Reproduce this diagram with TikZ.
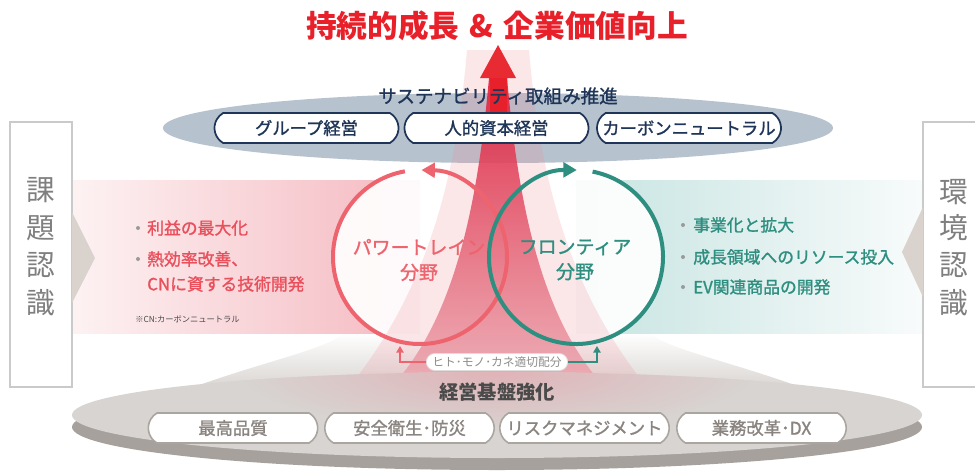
\documentclass[tikz,border=0pt]{standalone}
\usepackage{fontspec}
\setmainfont{Noto Sans CJK JP}
\newfontfamily\jpmed{Noto Sans CJK JP}[FakeBold=1.3]
\usetikzlibrary{arrows.meta,shapes.misc}
\definecolor{titlered}{HTML}{E8202A}
\definecolor{navyc}{HTML}{1F3557}
\definecolor{ellblue}{HTML}{B7C2CF}
\definecolor{coralc}{HTML}{EE646E}
\definecolor{coraltxt}{HTML}{E9505C}
\definecolor{tealc}{HTML}{2E8E80}
\definecolor{boxgrey}{HTML}{CACACA}
\definecolor{boxtxt}{HTML}{7F7F7F}
\definecolor{chev}{HTML}{D9D2CD}
\definecolor{discface}{HTML}{D7D4D1}
\definecolor{discside}{HTML}{A6A19C}
\definecolor{discpink}{HTML}{E0B3B8}
\definecolor{pillgrey}{HTML}{ABA5A0}
\definecolor{pilltxt}{HTML}{8A8480}
\definecolor{basetxt}{HTML}{4A4A4A}
\definecolor{bandpinkL}{HTML}{FDF2F3}
\definecolor{bandpinkR}{HTML}{F4B9C0}
\definecolor{bandtealL}{HTML}{C6E4E1}
\definecolor{bandtealR}{HTML}{F8FBFB}
\definecolor{beamred}{HTML}{DE1A38}
\definecolor{beammid}{HTML}{E65A6C}
\definecolor{beamlow}{HTML}{ECB0B8}
\definecolor{beamlight}{HTML}{F08E9A}
\definecolor{glowgrey}{HTML}{D6D2CE}
\definecolor{dotgrey}{HTML}{9A9A9A}
\definecolor{alloctxt}{HTML}{8C8C8C}
\definecolor{allocedge}{HTML}{E2DDDD}

\tikzset{
  toppill/.style={draw=navyc, line width=1.3pt, fill=white, rounded rectangle, rounded rectangle arc length=120, minimum width=138pt, minimum height=22.5pt, inner sep=0pt, text=navyc, font=\jpmed\fontsize{13}{13}\selectfont},
  botpill/.style={draw=pillgrey, line width=1.2pt, fill=white, rounded rectangle, rounded rectangle arc length=120, minimum width=127pt, minimum height=22.5pt, inner sep=0pt, text=pilltxt, font=\jpmed\fontsize{13}{13}\selectfont},
  vchar/.style={text=boxtxt, inner sep=0pt, font=\fontsize{21.5}{21.5}\selectfont},
  lbul/.style={anchor=west, inner sep=0pt, text=coraltxt, font=\jpmed\fontsize{12.6}{12.6}\selectfont},
  rbul/.style={anchor=west, inner sep=0pt, text=tealc, font=\jpmed\fontsize{12.6}{12.6}\selectfont},
  fieldtxt/.style={align=center, inner sep=0pt, font=\jpmed\fontsize{14.2}{18.8}\selectfont},
  ring/.style={line width=3pt, -{Triangle[length=10pt,width=11pt]}},
  feed/.style={line width=1.5pt, -{Triangle[length=5pt,width=5.5pt]}},
}

\begin{document}
\begin{tikzpicture}[x=0.75pt,y=-0.75pt]
\useasboundingbox (0,0) rectangle (975,472);
\clip (0,0) rectangle (975,472);
\fill[white] (0,0) rectangle (975,472);

% glow cone above the base disc
\shade[top color=white, bottom color=glowgrey] (180,392) .. controls (260,362) and (325,350) .. (345,333) -- (649,333) .. controls (669,350) and (734,362) .. (814,392) -- cycle;

% side bands
\shade[left color=bandpinkL, right color=bandpinkR] (72,180) rectangle (420,333);
\shade[left color=bandtealL, right color=bandtealR] (576,180) rectangle (923,333);

% side boxes and chevrons
\draw[boxgrey, line width=1.1pt, fill=white] (10,122) rectangle (72,387);
\draw[boxgrey, line width=1.1pt, fill=white] (923,122) rectangle (990,387);
\fill[chev] (72,212) -- (95,258) -- (72,303) -- cycle;
\fill[chev] (923,207) -- (902,252) -- (923,297) -- cycle;

% top ellipse
\fill[ellblue] (498,128) ellipse[x radius=335, y radius=35];

% circle interiors
\fill[white, opacity=0.92] (420,257) circle[radius=87];
\fill[white, opacity=0.92] (576,257) circle[radius=87];

% beams
\fill[beamlight, opacity=0.22] (467,50) .. controls (457,170) and (430,290) .. (345,392) -- (651,392) .. controls (566,290) and (539,170) .. (529,50) -- cycle;
\shade[top color=beamred, middle color=beammid, bottom color=beamlow, opacity=0.88] (489,78) .. controls (478,200) and (455,330) .. (380,398) -- (616,398) .. controls (541,330) and (518,200) .. (507,78) -- cycle;

% base disc
\fill[discside] (497,427) ellipse[x radius=425, y radius=43];
\fill[discface] (497,415) ellipse[x radius=425, y radius=43];
\begin{scope}
  \clip (497,415) ellipse[x radius=425, y radius=43];
  \shade[inner color=discpink, outer color=discface] (497,372) ellipse[x radius=260, y radius=60];
\end{scope}

% main arrow
\fill[titlered, opacity=0.95] (498,45) -- (516,78) -- (507,78) -- (507,140) -- (490,140) -- (490,78) -- (480,78) -- cycle;

% circle strokes with arrows
\draw[ring, coralc] (420,257) ++(-100:87) arc[start angle=-100, end angle=-449, radius=87];
\draw[ring, tealc] (576,257) ++(-79:87) arc[start angle=-79, end angle=270.5, radius=87];

% title and subtitle
\node[font=\bfseries\fontsize{23}{23}\selectfont, text=titlered, inner sep=0pt] (title) at (497,26) {持続的成長\,\,\&\,\,企業価値向上};
\node[font=\jpmed\fontsize{13.9}{13.9}\selectfont, text=navyc, inner sep=0pt] (sub) at (498,96) {サステナビリティ取組み推進};

% top pills
\node[toppill] (p1) at (306.5,128) {グループ経営};
\node[toppill] (p2) at (496.5,128) {人的資本経営};
\node[toppill] (p3) at (689,128) {カーボンニュートラル};

% side box texts
\node[vchar] (k1) at (41,190) {課};
\node[vchar] (k2) at (41,228) {題};
\node[vchar] (k3) at (41,265) {認};
\node[vchar] (k4) at (41,303) {識};
\node[vchar] (e1) at (954,192) {環};
\node[vchar] (e2) at (954,228) {境};
\node[vchar] (e3) at (954,265) {認};
\node[vchar] (e4) at (954,303) {識};

% left bullets
\fill[dotgrey] (138,228) circle[radius=2];
\fill[dotgrey] (138,259) circle[radius=2];
\node[lbul] (l1) at (147,228) {利益の最大化};
\node[lbul] (l2) at (147,259) {熱効率改善、};
\node[lbul] (l3) at (147,284) {CNに資する技術開発};
\node[anchor=west, inner sep=0pt, text=basetxt, font=\fontsize{6.2}{6.2}\selectfont] (note) at (135,319) {※CN:カーボンニュートラル};

% right bullets
\fill[dotgrey] (683,225) circle[radius=2];
\fill[dotgrey] (683,257) circle[radius=2];
\fill[dotgrey] (683,287) circle[radius=2];
\node[rbul] (r1) at (693,225) {事業化と拡大};
\node[rbul] (r2) at (693,257) {成長領域へのリソース投入};
\node[rbul] (r3) at (693,287) {EV関連商品の開発};

% circle texts
\node[fieldtxt, text=coralc] (pt) at (419,260) {パワートレイン\\分野};
\node[fieldtxt, text=tealc] (ft) at (575,260) {フロンティア\\分野};

% allocation label and feedback arrows
\node[draw=allocedge, line width=0.6pt, fill=white, rounded rectangle, minimum width=106pt, minimum height=12.75pt, inner sep=0pt, text=alloctxt, font=\fontsize{8.8}{8.8}\selectfont] (alloc) at (497,362) {ヒト･モノ･カネ適切配分};
\coordinate (lfoot) at (400,346);
\coordinate (rfoot) at (597,346);
\draw[feed, coralc] (alloc.west) -| (lfoot);
\draw[feed, tealc] (alloc.east) -| (rfoot);

% base title and pills
\node[font=\bfseries\fontsize{14.5}{14.5}\selectfont, text=basetxt, inner sep=0pt] (base) at (497,392) {経営基盤強化};
\node[botpill] (b1) at (233,428) {最高品質};
\node[botpill] (b2) at (409.5,428) {安全衛生･防災};
\node[botpill] (b3) at (584.5,428) {リスクマネジメント};
\node[botpill] (b4) at (761.5,428) {業務改革･DX};
\end{tikzpicture}
\end{document}
